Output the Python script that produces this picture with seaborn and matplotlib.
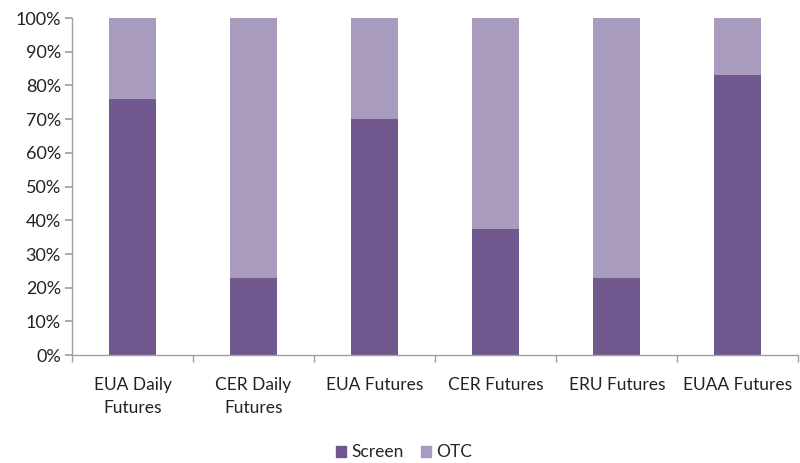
import matplotlib
matplotlib.use("Agg")
import matplotlib.pyplot as plt
import numpy as np
import pandas as pd
import seaborn as sns
from matplotlib.patches import Patch
from matplotlib.ticker import FixedLocator, PercentFormatter

categories = ["EUA Daily\nFutures", "CER Daily\nFutures", "EUA Futures",
              "CER Futures", "ERU Futures", "EUAA Futures"]
screen = [76, 23, 70, 37.5, 23, 83]
otc = [24, 77, 30, 62.5, 77, 17]

screen_color = "#71588F"
otc_color = "#A99BBD"

sns.set_theme(style="white")
plt.rcParams["font.family"] = ["Lato", "DejaVu Sans"]

df = pd.DataFrame({"category": categories, "Screen": screen, "OTC": otc})
df["total"] = df["Screen"] + df["OTC"]

fig = plt.figure(figsize=(8, 4.63), dpi=100)
ax = fig.add_axes([0.09, 0.233, 0.908, 0.728])

sns.barplot(data=df, x="category", y="total", color=otc_color, width=0.39,
            saturation=1, linewidth=0, ax=ax)
sns.barplot(data=df, x="category", y="Screen", color=screen_color, width=0.39,
            saturation=1, linewidth=0, ax=ax)

ax.set_xlim(-0.5, len(categories) - 0.5)
ax.set_ylim(0, 100)
ax.set_yticks(np.arange(0, 101, 10))
ax.yaxis.set_major_formatter(PercentFormatter(decimals=0))
ax.set_xlabel("")
ax.set_ylabel("")

for s in ["top", "right"]:
    ax.spines[s].set_visible(False)
for s in ["left", "bottom"]:
    ax.spines[s].set_color("#A0A0A0")
    ax.spines[s].set_linewidth(1)

ax.xaxis.set_minor_locator(FixedLocator(np.arange(-0.5, len(categories), 1)))
ax.tick_params(axis="x", which="major", length=0, pad=16, labelsize=12.5,
               colors="#222222")
ax.tick_params(axis="x", which="minor", length=5, color="#A0A0A0", direction="out",
               bottom=True)
ax.tick_params(axis="y", which="major", length=5, color="#A0A0A0", direction="out",
               left=True, labelsize=13, colors="#222222", pad=3)
for lbl in ax.get_xticklabels():
    lbl.set_linespacing(1.55)

handles = [Patch(color=screen_color, label="Screen"),
           Patch(color=otc_color, label="OTC")]
fig.legend(handles=handles, loc="center", bbox_to_anchor=(0.505, 0.023), ncol=2,
           frameon=False, fontsize=12.5, handlelength=0.6, handleheight=0.6,
           handletextpad=0.3, columnspacing=1.0)

fig.savefig("out.png", dpi=100)
